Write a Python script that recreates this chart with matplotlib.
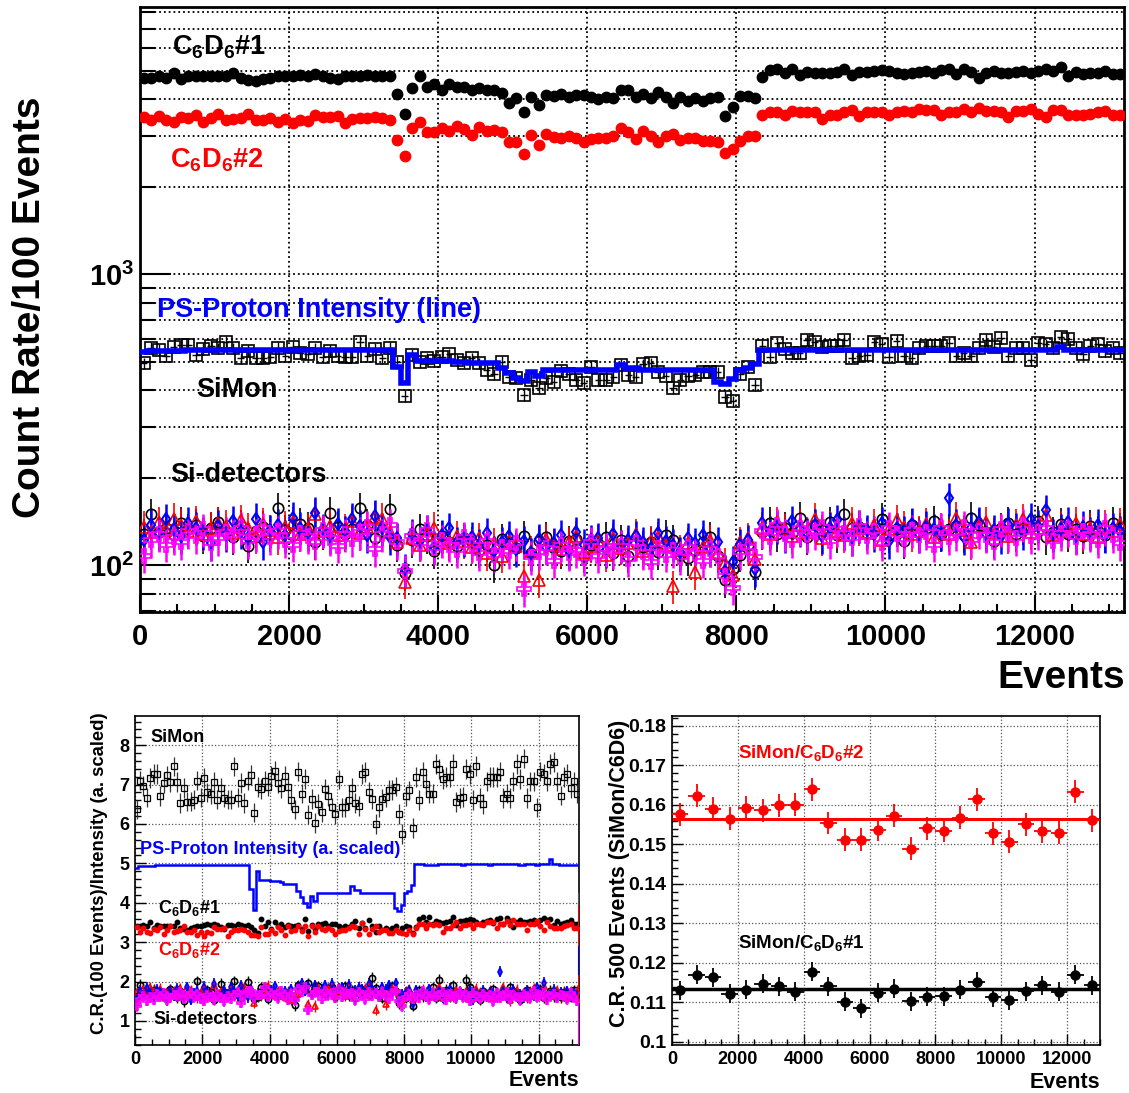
import numpy as np
import matplotlib.pyplot as plt
from matplotlib.ticker import MultipleLocator, FixedLocator, NullFormatter

plt.rcParams['font.family'] = ['Liberation Sans', 'DejaVu Sans']
plt.rcParams['font.weight'] = 'bold'
plt.rcParams['mathtext.fontset'] = 'custom'
plt.rcParams['mathtext.rm'] = 'Liberation Sans:bold'
plt.rcParams['mathtext.it'] = 'Liberation Sans:bold'
plt.rcParams['mathtext.bf'] = 'Liberation Sans:bold'

# ---------------- data: top panel (count rate per 100 events) ----------------
c6d6_1 = [4730, 4750, 4790, 4750, 4910, 4690, 4820, 4790, 4790, 4790, 4790, 4790, 4940, 4730, 4670, 4630, 4690,
          4750, 4790, 4790, 4820, 4850, 4820, 4870, 4820, 4750, 4680, 4820, 4820, 4790, 4850, 4810, 4790, 4820,
          4160, 3565, 4360, 4820, 4420, 4530, 4300, 4500, 4390, 4420,
          4300, 4360, 4300, 4300, 4190, 3870, 4050, 3610, 4060, 3820, 4140, 4120, 4160, 4060, 4140, 4140, 4060,
          4000, 4080, 4030, 4320, 4300, 4080, 4160, 4030, 4240, 4080, 3890, 4080, 3950, 4030, 3950, 4030, 4080,
          3510, 3770, 4110, 4110, 4050, 4770, 5040, 5100, 4940, 5100, 4850,
          4970, 4940, 4910, 4940, 4970, 5100, 4830, 4970, 4970, 5000, 5040, 5000, 4940, 4870, 4940, 4970, 5000,
          4910, 5040, 5080, 4880, 5080, 4970, 4750, 4940, 5000, 4940, 4940, 4970, 5010, 4910, 5000, 5080, 5010,
          5180, 4820, 4970, 4870, 4910, 4940, 5010, 4870, 4870]
c6d6_2 = [3480, 3395, 3510, 3395, 3350, 3480, 3450, 3540, 3350, 3450, 3570, 3395, 3430, 3450, 3570, 3395, 3395,
          3450, 3330, 3420, 3310, 3395, 3370, 3540, 3480, 3480, 3510, 3310, 3420, 3450, 3450, 3480, 3450, 3395,
          2900, 2560, 3190, 3330, 3080, 3090, 3180, 3110, 3240, 3160,
          3015, 3220, 3110, 3135, 3090, 2850, 2860, 2590, 3015, 2785, 3040, 2960, 2950, 3000, 2940, 2850, 2920,
          2950, 2940, 3000, 3180, 3080, 2920, 3110, 2980, 2850, 2980, 3030, 2900, 2950, 2940, 2870, 2870, 2860,
          2610, 2690, 2870, 3000, 3000, 3530, 3620, 3620, 3540, 3640, 3610,
          3620, 3610, 3430, 3540, 3540, 3610, 3670, 3510, 3610, 3610, 3620, 3530, 3620, 3640, 3610, 3690, 3670,
          3670, 3530, 3620, 3620, 3700, 3610, 3720, 3640, 3640, 3620, 3480, 3640, 3640, 3700, 3570, 3480, 3670,
          3670, 3540, 3540, 3530, 3570, 3610, 3640, 3530, 3540]
simon = [495, 560, 550, 526, 565, 573, 573, 529, 555, 570, 557, 588, 557, 515, 546, 518, 518, 522, 560, 526,
         565, 536, 532, 557, 522, 546, 526, 522, 522, 588, 526, 555, 515, 560, 500, 383, 529, 500, 515, 505,
         522, 532, 508, 498,
         515, 495, 470, 454, 502, 446, 442, 386, 434, 408, 440, 426, 466, 454, 434, 423, 482, 434, 434, 446,
         489, 452, 446, 491, 495, 461, 449, 406, 434, 449, 452, 464, 464, 461, 380, 366, 454, 482, 417, 570,
         522, 580, 555,
         536, 536, 596, 585, 565, 570, 570, 596, 518, 526, 529, 585, 575, 522, 591, 526, 515, 560, 570, 570,
         570, 580, 526, 536, 526, 560, 596, 565, 606, 526, 560, 560, 508, 580, 575, 560, 611, 600, 560, 532,
         570, 575, 546, 560, 536]
intensity = [540, 545, 545, 545, 545, 545, 549, 549, 549, 549, 549, 549, 549, 549, 549, 549, 549, 549, 549, 549,
             549, 548, 548, 548, 548, 548, 548, 548, 548, 548, 548, 548, 548, 548,
             480, 423, 530, 505, 505, 505, 503, 503, 502, 500, 496, 496, 495, 495, 476, 458, 440, 430, 462, 448,
             470, 470, 470, 470, 470, 470, 470, 470, 470, 470, 490, 478, 478,
             468, 468, 468, 468, 468, 468, 468, 468, 468, 468, 426, 420, 437, 470, 476, 491,
             552, 552, 550, 548, 548, 549, 549, 550, 551, 550, 550, 551, 551, 550, 549, 550, 550, 551, 552, 551,
             550, 550, 549, 550, 551, 552, 552, 551, 550, 550, 550, 549, 549, 550, 551, 550, 549, 550, 551, 550,
             565, 551, 550, 549, 549, 548, 548, 549, 548]
si_black = [128, 150, 130, 135, 127, 140, 133, 138, 126, 135, 141, 130, 125, 137, 117, 131, 136, 128, 157, 132,
            127, 139, 135, 120, 130, 152, 136, 128, 133, 157, 138, 124, 131, 156,
            118, 94, 122, 133, 126, 112, 126, 120, 117, 124,
            120, 113, 118, 100, 123, 119, 115, 126, 110, 121, 125, 115, 112, 121, 123, 108, 118, 117, 125, 110,
            122, 108, 119, 116, 120, 111, 127, 122, 109, 106, 113, 120, 125, 108, 89, 97, 109, 118, 95,
            130, 140, 128, 135, 129, 146, 125, 138, 132, 141, 127, 150, 134, 136, 129, 131, 145, 127, 133, 121,
            138, 130, 135, 142, 128, 133, 137, 127, 146, 138, 130, 121, 134, 140, 128, 135, 136, 142, 125, 130,
            139, 128, 133, 126, 137, 131, 127, 140, 134]
si_red = [136, 130, 141, 132, 145, 138, 131, 142, 128, 135, 140, 137, 129, 143, 134, 126, 139, 132, 125, 136,
          141, 128, 134, 150, 131, 137, 127, 133, 142, 129, 136, 147, 145, 130,
          120, 88, 124, 118, 128, 135, 122, 119, 126, 121,
          116, 124, 110, 119, 108, 121, 117, 92, 112, 89, 123, 118, 114, 120, 126, 111, 117, 122, 109, 124,
          115, 119, 128, 112, 121, 125, 118, 85, 113, 119, 95, 116, 122, 110, 102, 93, 120, 124, 105,
          135, 128, 141, 133, 126, 138, 130, 145, 124, 136, 131, 127, 140, 134, 129, 138, 122, 133, 143, 136,
          128, 131, 139, 125, 134, 128, 146, 132, 120, 137, 141, 129, 133, 126, 138, 144, 130, 135, 149, 127,
          136, 131, 140, 128, 134, 125, 137, 131, 139]
si_blue = [122, 138, 129, 144, 133, 126, 140, 135, 130, 119, 137, 128, 142, 131, 124, 145, 120, 132, 138, 127,
           146, 135, 129, 152, 133, 126, 139, 131, 145, 137, 127, 148, 134, 125,
           124, 97, 128, 121, 132, 116, 127, 134, 120, 123,
           125, 118, 129, 112, 120, 126, 114, 121, 110, 123, 116, 119, 127, 112, 130, 118, 122, 124, 113, 128,
           117, 122, 126, 120, 115, 129, 121, 118, 111, 124, 119, 127, 114, 120, 96, 103, 118, 122, 97,
           140, 131, 136, 127, 142, 133, 129, 138, 126, 135, 143, 130, 124, 137, 132, 128, 140, 121, 134, 131,
           139, 127, 136, 133, 129, 170, 138, 125, 135, 141, 128, 132, 126, 139, 134, 130, 145, 137, 155, 128,
           133, 141, 126, 136, 130, 138, 127, 134, 131]
si_magenta = [108, 122, 128, 118, 125, 120, 131, 126, 133, 119, 124, 130, 127, 135, 121, 128, 134, 125, 131, 122,
              118, 129, 126, 120, 132, 124, 117, 128, 123, 130, 136, 114, 128, 138,
              120, 96, 126, 119, 132, 115, 122, 118, 113, 125,
              118, 110, 121, 109, 116, 112, 119, 83, 107, 111, 115, 104, 118, 110, 113, 106, 120, 108, 114, 112,
              117, 105, 119, 111, 103, 115, 109, 113, 107, 116, 110, 104, 114, 108, 92, 84, 111, 116, 107,
              131, 125, 138, 128, 122, 134, 127, 130, 136, 121, 133, 129, 124, 137, 126, 131, 119, 135, 128, 123,
              132, 127, 130, 118, 134, 125, 129, 136, 122, 131, 127, 120, 133, 128, 124, 138, 126, 130, 135, 121,
              129, 133, 125, 131, 128, 122, 134, 127, 119]

# ---------------- data: bottom-left panel (normalised to intensity, a. scaled) ----------------
simon_n = [6.37, 7.10, 6.97, 6.67, 7.16, 7.27, 7.27, 6.71, 7.04, 7.23, 7.06, 7.46, 7.06, 6.53, 6.92, 6.57, 6.57,
           6.62, 7.10, 6.67, 7.16, 6.80, 6.75, 7.06, 6.62, 6.92, 6.67, 6.62, 6.62, 7.46, 6.67, 7.04, 6.53, 7.10,
           7.24, 6.29, 6.94, 6.88, 7.09, 6.95, 7.21, 7.35, 7.03, 6.92, 7.22, 6.94, 6.60, 6.37, 7.33, 6.77, 7.14,
           6.24, 6.63, 6.03, 6.51, 6.30, 6.89, 6.71, 6.42, 6.26, 7.13, 6.42, 6.42, 6.60, 6.92, 6.54, 6.46, 7.26,
           7.32, 6.82, 6.64, 6.00, 6.42, 6.64, 6.68, 6.86, 6.86, 6.95, 6.25, 5.75, 6.70, 6.85, 5.90,
           7.20, 6.60, 7.33, 7.01, 6.77, 6.77, 7.53, 7.39, 7.14, 7.20, 7.20, 7.53, 6.55, 6.65, 6.68, 7.39, 7.27,
           6.60, 7.47, 6.65, 6.51, 7.08, 7.20, 7.20, 7.20, 7.33, 6.65, 6.77, 6.65, 7.08, 7.53, 7.14, 7.66, 6.65,
           7.08, 7.08, 6.42, 7.33, 7.27, 7.08, 7.52, 7.58, 7.08, 6.72, 7.20, 7.27, 6.90, 7.08, 6.77]
c6d6_1_n = [3.42, 3.41, 3.44, 3.41, 3.52, 3.36, 3.44, 3.42, 3.42, 3.42, 3.42, 3.42, 3.52, 3.37, 3.33, 3.30, 3.35,
            3.39, 3.42, 3.42, 3.44, 3.46, 3.44, 3.47, 3.44, 3.39, 3.34, 3.44, 3.44, 3.42, 3.46, 3.43, 3.42, 3.44,
            3.39, 3.30, 3.22, 3.60, 3.42, 3.51, 3.34, 3.50, 3.42, 3.46, 3.39, 3.44, 3.40, 3.40, 3.44, 3.33, 3.60,
            3.28, 3.44, 3.33, 3.47, 3.46, 3.49, 3.41, 3.47, 3.47, 3.41, 3.36, 3.42, 3.38, 3.46, 3.53, 3.35, 3.48,
            3.37, 3.55, 3.42, 3.26, 3.42, 3.31, 3.37, 3.31, 3.37, 3.40, 3.27, 3.37, 3.42, 3.38, 3.23,
            3.39, 3.58, 3.63, 3.51, 3.63, 3.45, 3.53, 3.51, 3.49, 3.51, 3.53, 3.63, 3.43, 3.53, 3.53, 3.56, 3.58,
            3.56, 3.51, 3.46, 3.51, 3.53, 3.56, 3.49, 3.58, 3.61, 3.47, 3.61, 3.53, 3.38, 3.51, 3.56, 3.51, 3.51,
            3.53, 3.56, 3.49, 3.56, 3.61, 3.56, 3.58, 3.43, 3.53, 3.46, 3.49, 3.51, 3.56, 3.46, 3.46]
c6d6_2_n = [3.38, 3.26, 3.37, 3.26, 3.22, 3.34, 3.30, 3.38, 3.20, 3.30, 3.41, 3.25, 3.28, 3.30, 3.41, 3.25, 3.25,
            3.30, 3.18, 3.27, 3.16, 3.25, 3.22, 3.38, 3.33, 3.33, 3.36, 3.16, 3.27, 3.30, 3.30, 3.33, 3.30, 3.25,
            3.17, 3.17, 3.15, 3.38, 3.20, 3.21, 3.31, 3.24, 3.38, 3.31, 3.19, 3.40, 3.29, 3.32, 3.40, 3.28, 3.41,
            3.16, 3.42, 3.26, 3.42, 3.33, 3.32, 3.37, 3.30, 3.20, 3.28, 3.32, 3.30, 3.37, 3.41, 3.39, 3.21, 3.49,
            3.34, 3.20, 3.34, 3.40, 3.25, 3.31, 3.30, 3.22, 3.22, 3.30, 3.26, 3.23, 3.20, 3.30, 3.20,
            3.36, 3.45, 3.45, 3.37, 3.47, 3.44, 3.45, 3.44, 3.27, 3.37, 3.37, 3.44, 3.50, 3.35, 3.44, 3.44, 3.45,
            3.36, 3.45, 3.47, 3.44, 3.52, 3.50, 3.50, 3.36, 3.45, 3.45, 3.53, 3.44, 3.55, 3.47, 3.47, 3.45, 3.32,
            3.47, 3.47, 3.53, 3.40, 3.32, 3.50, 3.40, 3.37, 3.37, 3.36, 3.40, 3.44, 3.47, 3.36, 3.37]
si_black_n = [1.64, 1.92, 1.66, 1.73, 1.63, 1.79, 1.70, 1.77, 1.61, 1.73, 1.80, 1.66, 1.60, 1.75, 1.50, 1.68, 1.74,
              1.64, 2.01, 1.69, 1.63, 1.78, 1.73, 1.54, 1.66, 1.95, 1.74, 1.64, 1.70, 2.01, 1.77, 1.59, 1.68, 2.00,
              1.72, 1.56, 1.61, 1.86, 1.76, 1.57, 1.76, 1.68, 1.64, 1.74, 1.68, 1.58, 1.65, 1.40, 1.91, 1.85, 1.79,
              1.96, 1.71, 1.88, 1.88, 1.73, 1.68, 1.82, 1.85, 1.62, 1.77, 1.76, 1.88, 1.65, 1.78, 1.58, 1.74, 1.74,
              1.80, 1.67, 2.10, 1.83, 1.64, 1.59, 1.70, 1.80, 1.88, 1.76, 1.45, 1.58, 1.59, 1.72, 1.39,
              1.65, 1.78, 1.63, 1.72, 1.64, 1.86, 1.59, 2.05, 1.68, 1.79, 1.62, 1.91, 1.71, 1.73, 1.64, 2.04, 1.85,
              1.62, 1.69, 1.54, 1.76, 1.65, 1.72, 1.81, 1.63, 1.69, 1.74, 1.62, 1.86, 1.76, 1.65, 1.54, 1.71, 1.78,
              1.63, 1.72, 1.73, 1.81, 1.59, 1.65, 1.77, 1.63, 1.69, 1.60, 1.74, 1.67, 1.62, 1.78, 1.71]
si_red_n = [1.74, 1.66, 1.80, 1.69, 1.86, 1.77, 1.68, 1.82, 1.64, 1.73, 1.79, 1.75, 1.65, 1.83, 1.72, 1.61, 1.78,
            1.69, 1.60, 1.74, 1.80, 1.64, 1.72, 1.92, 1.68, 1.75, 1.63, 1.70, 1.82, 1.65, 1.74, 1.88, 1.86, 1.66,
            1.75, 1.46, 1.64, 1.65, 1.79, 1.89, 1.71, 1.67, 1.76, 1.69, 1.62, 1.74, 1.54, 1.67, 1.68, 1.88, 1.82,
            1.43, 1.74, 1.38, 1.85, 1.77, 1.71, 1.80, 1.89, 1.67, 1.76, 1.83, 1.64, 1.86, 1.68, 1.74, 1.87, 1.68,
            1.82, 1.88, 1.77, 1.28, 1.70, 1.79, 1.43, 1.74, 1.83, 1.79, 1.66, 1.52, 1.75, 1.81, 1.53,
            1.72, 1.63, 1.79, 1.69, 1.60, 1.76, 1.65, 1.85, 1.58, 1.73, 1.67, 1.62, 1.78, 1.71, 1.64, 1.76, 1.55,
            1.69, 1.82, 1.73, 1.63, 1.67, 1.77, 1.59, 1.71, 1.63, 1.86, 1.68, 1.53, 1.74, 1.79, 1.64, 1.69, 1.60,
            1.76, 1.83, 1.65, 1.72, 1.90, 1.62, 1.73, 1.67, 1.78, 1.63, 1.71, 1.59, 1.74, 1.67, 1.77]
si_blue_n = [1.56, 1.77, 1.65, 1.84, 1.70, 1.61, 1.79, 1.73, 1.66, 1.52, 1.75, 1.64, 1.82, 1.68, 1.59, 1.86, 1.54,
             1.69, 1.77, 1.63, 1.87, 1.73, 1.65, 1.95, 1.70, 1.61, 1.78, 1.68, 1.86, 1.75, 1.63, 1.89, 1.72, 1.60,
             1.81, 1.61, 1.69, 1.69, 1.85, 1.62, 1.78, 1.88, 1.68, 1.72, 1.75, 1.65, 1.81, 1.57, 1.87, 1.96, 1.77,
             1.88, 1.71, 1.91, 1.74, 1.79, 1.91, 1.68, 1.95, 1.77, 1.83, 1.86, 1.70, 1.92, 1.71, 1.78, 1.84, 1.80,
             1.73, 1.94, 1.82, 1.77, 1.67, 1.86, 1.79, 1.91, 1.71, 1.96, 1.56, 1.68, 1.72, 1.78, 1.42,
             1.78, 1.67, 1.73, 1.62, 1.81, 1.69, 1.64, 1.76, 1.60, 1.72, 1.82, 1.65, 1.58, 1.74, 1.68, 1.63, 1.78,
             1.54, 1.71, 1.67, 1.77, 1.62, 1.73, 1.69, 1.64, 2.25, 1.76, 1.59, 1.72, 1.79, 1.63, 1.68, 1.60, 1.77,
             1.71, 1.65, 1.85, 1.74, 1.97, 1.63, 1.69, 1.79, 1.60, 1.73, 1.65, 1.76, 1.62, 1.71, 1.67]
si_magenta_n = [1.38, 1.56, 1.64, 1.51, 1.60, 1.54, 1.68, 1.61, 1.70, 1.52, 1.59, 1.66, 1.63, 1.73, 1.55, 1.64,
                1.72, 1.60, 1.68, 1.56, 1.51, 1.65, 1.61, 1.54, 1.69, 1.59, 1.50, 1.64, 1.57, 1.66, 1.74, 1.46,
                1.64, 1.77,
                1.75, 1.59, 1.66, 1.67, 1.85, 1.61, 1.71, 1.65, 1.58, 1.75, 1.65, 1.54, 1.69, 1.53, 1.80, 1.74,
                1.85, 1.29, 1.66, 1.73, 1.73, 1.56, 1.77, 1.65, 1.70, 1.59, 1.80, 1.62, 1.71, 1.68, 1.71, 1.53,
                1.74, 1.67, 1.55, 1.73, 1.64, 1.70, 1.61, 1.74, 1.65, 1.56, 1.71, 1.76, 1.50, 1.37, 1.62, 1.69, 1.56,
                1.67, 1.59, 1.76, 1.63, 1.55, 1.71, 1.62, 1.65, 1.73, 1.54, 1.69, 1.64, 1.58, 1.74, 1.60, 1.67,
                1.51, 1.72, 1.63, 1.57, 1.68, 1.62, 1.65, 1.50, 1.71, 1.59, 1.64, 1.73, 1.55, 1.67, 1.62, 1.53,
                1.69, 1.63, 1.58, 1.76, 1.60, 1.65, 1.72, 1.54, 1.64, 1.69, 1.59, 1.67, 1.63, 1.55, 1.71, 1.62, 1.51]
# last, almost empty bin at the right edge (only its large error bars are visible)
edge_vals = [3.76, 2.20, 2.53, 0.95]
edge_errs = [0.50, 1.75, 0.36, 0.55]
edge_cols = ['#555555', 'red', 'blue', 'magenta']
intensity_scale = 0.00905

# ---------------- data: bottom-right panel (500-event ratios) ----------------
ratio_c2 = [0.1576, 0.1623, 0.1590, 0.1565, 0.1593, 0.1586, 0.1599, 0.1600, 0.1640, 0.1554, 0.1512, 0.1512, 0.1537,
            0.1573, 0.1489, 0.1541, 0.1534, 0.1567, 0.1614, 0.1528, 0.1507, 0.1551, 0.1533, 0.1529, 0.1633, 0.1561]
ratio_c1 = [0.1130, 0.1170, 0.1164, 0.1122, 0.1132, 0.1147, 0.1141, 0.1127, 0.1177, 0.1141, 0.1101, 0.1085, 0.1124,
            0.1135, 0.1103, 0.1114, 0.1116, 0.1132, 0.1152, 0.1113, 0.1105, 0.1128, 0.1143, 0.1127, 0.1170, 0.1143]
fit_c2 = 0.1564
fit_c1 = 0.1133

BIN = 100
nb = len(c6d6_1)
xc = np.arange(nb) * BIN + BIN / 2
edges = np.arange(nb + 1) * BIN
xr = np.arange(len(ratio_c1)) * 500 + 250

W, H = 1129, 1093
fig = plt.figure(figsize=(W / 100, H / 100), dpi=100)


def box(x0, y0, x1, y1):
    return [x0 / W, 1 - y1 / H, (x1 - x0) / W, (y1 - y0) / H]


def pts(ax, y, yerr, fmt, color, ms, lw=1.2, mew=1.2, z=3):
    ax.errorbar(xc, y, yerr=yerr, fmt=fmt, ms=ms, mfc='none', mec=color, mew=mew, ecolor=color,
                elinewidth=lw, capsize=0, zorder=z)


# ================= top panel =================
ax = fig.add_axes(box(140, 7, 1124, 612))
ax.set_xlim(0, 13200)
ax.set_yscale('log')
ax.set_ylim(69.2, 8300)

v = np.array(si_black, float)
pts(ax, v, 0.13 * v, 'o', 'black', 7.5)
v = np.array(si_red, float)
pts(ax, v, 0.13 * v, '^', 'red', 8)
v = np.array(si_blue, float)
pts(ax, v, 0.13 * v, 'd', 'blue', 6, lw=1.8, mew=1.5)
v = np.array(si_magenta, float)
pts(ax, v, 0.13 * v, 'P', 'magenta', 9.5, lw=1.8)
v = np.array(simon, float)
ax.errorbar(xc, v, yerr=0.045 * v, xerr=BIN / 2, fmt='s', ms=8, mfc='none', mec='black', mew=1.2,
            ecolor='black', elinewidth=1, capsize=0, zorder=3)
ax.stairs(intensity, edges, baseline=None, color='blue', lw=4, zorder=4)
ax.plot(xc, c6d6_1, 'o', color='black', ms=7.5, zorder=5)
ax.plot(xc, c6d6_2, 'o', color='red', ms=7.5, zorder=5)

ax.xaxis.set_major_locator(MultipleLocator(2000))
ax.xaxis.set_minor_locator(MultipleLocator(500))
ax.yaxis.set_major_locator(FixedLocator([100, 1000]))
ax.set_yticklabels(['10$^{2}$', '10$^{3}$'])
ax.yaxis.set_minor_locator(FixedLocator([m * d for d in (10, 100, 1000) for m in range(2, 10)]))
ax.yaxis.set_minor_formatter(NullFormatter())
ax.grid(True, which='major', axis='x', ls=':', color='black', lw=1.3)
ax.grid(True, which='both', axis='y', ls=':', color='black', lw=1.3)
ax.tick_params(axis='x', which='major', direction='in', length=12, width=1.5, labelsize=21, pad=8)
ax.tick_params(axis='x', which='minor', direction='in', length=6, width=1.5)
ax.tick_params(axis='y', which='major', direction='in', length=22, width=1.5, labelsize=21, pad=4)
ax.tick_params(axis='y', which='minor', direction='in', length=11, width=1.5)
for s in ax.spines.values():
    s.set_linewidth(2)

kw = dict(transform=ax.transAxes, fontsize=19.5, fontweight='bold', va='center', ha='left')
ax.text(0.0325, 0.934, 'C$_{6}$D$_{6}$#1', color='black', **kw)
ax.text(0.0305, 0.747, 'C$_{6}$D$_{6}$#2', color='red', **kw)
ax.text(0.0173, 0.499, 'PS-Proton Intensity (line)', color='blue', **kw)
ax.text(0.057, 0.367, 'SiMon', color='black', **kw)
ax.text(0.0305, 0.226, 'Si-detectors', color='black', **kw)

fig.text(30 / W, 1 - 307 / H, 'Count Rate/100 Events', rotation=90, fontsize=28, fontweight='bold',
         ha='center', va='center')
fig.text(1125 / W, 1 - 678 / H, 'Events', fontsize=28, fontweight='bold', ha='right', va='center')

# ================= bottom-left panel =================
bl = fig.add_axes(box(135, 716, 579, 1045))
bl.set_xlim(0, 13200)
bl.set_ylim(0.39, 8.74)
pts(bl, si_black_n, 0.14, 'o', 'black', 4.5, lw=1)
pts(bl, si_red_n, 0.14, '^', 'red', 4.5, lw=1)
pts(bl, si_blue_n, 0.14, 'd', 'blue', 4, lw=1.2)
pts(bl, si_magenta_n, 0.14, 'P', 'magenta', 5.5, lw=1.2)
bl.errorbar(xc, simon_n, yerr=0.25, fmt='s', ms=4.5, mfc='none', mec='black', mew=0.9, ecolor='#333333',
            elinewidth=0.9, capsize=0, zorder=3)
bl.stairs(np.array(intensity) * intensity_scale, edges, baseline=None, color='blue', lw=1.8, zorder=4)
bl.errorbar(xc, c6d6_1_n, yerr=0.04, fmt='o', ms=3.2, color='black', elinewidth=0.8, capsize=0, zorder=5)
bl.errorbar(xc, c6d6_2_n, yerr=0.04, fmt='o', ms=3.2, color='red', elinewidth=0.8, capsize=0, zorder=5)
for val, err, col in zip(edge_vals, edge_errs, edge_cols):
    bl.errorbar([13193], [val], yerr=[err], fmt='none', ecolor=col, elinewidth=1.5, capsize=0, zorder=6)

bl.xaxis.set_major_locator(MultipleLocator(2000))
bl.xaxis.set_minor_locator(MultipleLocator(500))
bl.yaxis.set_major_locator(MultipleLocator(1))
bl.yaxis.set_minor_locator(MultipleLocator(0.2))
bl.grid(True, which='major', ls=':', color='#555555', lw=0.9)
bl.tick_params(which='major', direction='in', length=8, width=1, labelsize=13, pad=4)
bl.tick_params(which='minor', direction='in', length=4, width=1)
for s in bl.spines.values():
    s.set_linewidth(1.2)

kw = dict(transform=bl.transAxes, fontsize=13, fontweight='bold', va='center', ha='left')
bl.text(0.034, 0.936, 'SiMon', color='black', **kw)
bl.text(0.011, 0.593, 'PS-Proton Intensity (a. scaled)', color='blue', **kw)
bl.text(0.052, 0.416, 'C$_{6}$D$_{6}$#1', color='black', **kw)
bl.text(0.052, 0.289, 'C$_{6}$D$_{6}$#2', color='red', **kw)
bl.text(0.041, 0.076, 'Si-detectors', color='black', **kw)

fig.text(100 / W, 1 - 873 / H, 'C.R.(100 Events)/Intensity (a. scaled)', rotation=90, fontsize=13.3,
         fontweight='bold', ha='center', va='center')
fig.text(579 / W, 1 - 1081 / H, 'Events', fontsize=15.5, fontweight='bold', ha='right', va='center')

# ================= bottom-right panel =================
br = fig.add_axes(box(672, 716, 1100, 1045))
br.set_xlim(0, 13000)
br.set_ylim(0.0992, 0.1825)
br.axhline(fit_c2, color='red', lw=2.2, zorder=2)
br.axhline(fit_c1, color='black', lw=2.5, zorder=2)
br.errorbar(xr, ratio_c2, yerr=0.0029, xerr=250, fmt='o', ms=6.5, color='red', elinewidth=1.3, capsize=0,
            zorder=3)
br.errorbar(xr, ratio_c1, yerr=0.0024, xerr=250, fmt='o', ms=6.5, color='black', elinewidth=1.3, capsize=0,
            zorder=3)
br.xaxis.set_major_locator(MultipleLocator(2000))
br.xaxis.set_minor_locator(MultipleLocator(500))
br.yaxis.set_major_locator(MultipleLocator(0.01))
br.yaxis.set_minor_locator(MultipleLocator(0.002))
br.yaxis.set_major_formatter(lambda val, pos: '0.1' if abs(val - 0.1) < 1e-6 else '%.2f' % val)
br.grid(True, which='major', ls=':', color='#555555', lw=0.9)
br.tick_params(which='major', direction='in', length=8, width=1, labelsize=14, pad=4)
br.tick_params(axis='x', which='major', labelsize=13)
br.tick_params(which='minor', direction='in', length=4, width=1)
for s in br.spines.values():
    s.set_linewidth(1.2)

kw = dict(transform=br.transAxes, fontsize=13.5, fontweight='bold', va='center', ha='left')
br.text(0.154, 0.888, 'SiMon/C$_{6}$D$_{6}$#2', color='red', **kw)
br.text(0.154, 0.31, 'SiMon/C$_{6}$D$_{6}$#1', color='black', **kw)

fig.text(620 / W, 1 - 873 / H, 'C.R. 500 Events (SiMon/C6D6)', rotation=90, fontsize=15.5,
         fontweight='bold', ha='center', va='center')
fig.text(1100 / W, 1 - 1083 / H, 'Events', fontsize=15.5, fontweight='bold', ha='right', va='center')

fig.savefig('out.png', dpi=100)
